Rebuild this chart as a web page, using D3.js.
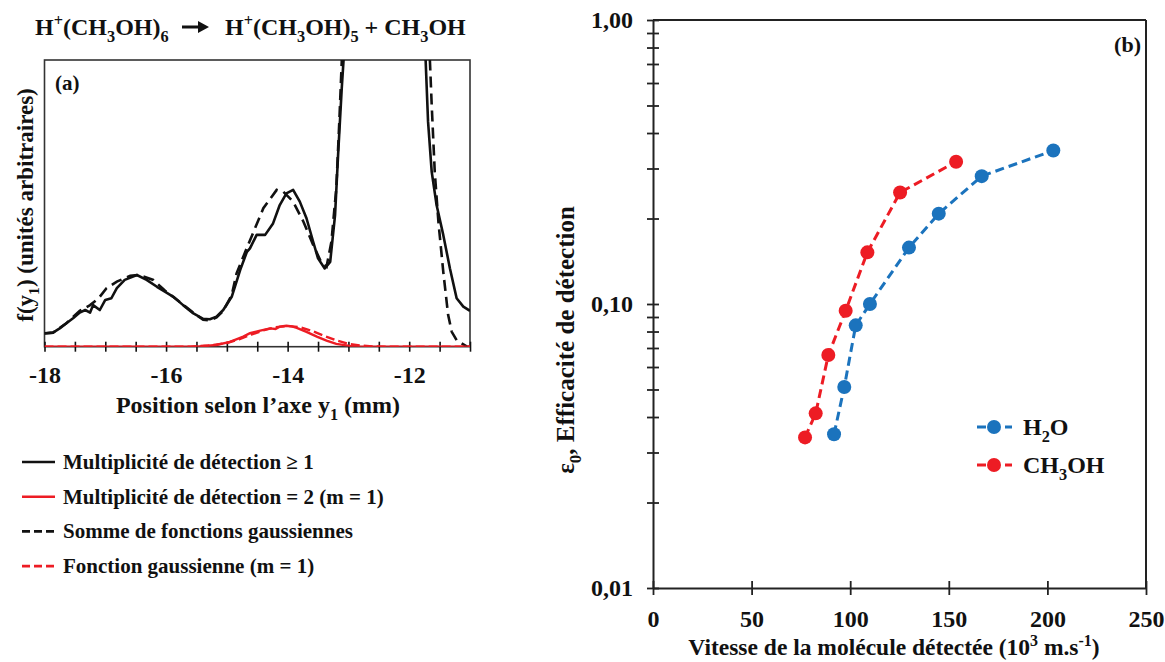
<!DOCTYPE html>
<html>
<head>
<meta charset="utf-8">
<script src="https://cdn.jsdelivr.net/npm/d3@7"></script>
<style>
  html, body { margin: 0; padding: 0; background: #fff; }
  text { font-family: "Liberation Serif", "Times New Roman", serif; font-weight: bold; fill: #111; }
</style>
</head>
<body>
<svg id="chart" width="1165" height="662"></svg>
<script>
// ---------- Panel (a) data ----------
const blackX = [-18.0,-17.86,-17.75,-17.64,-17.53,-17.42,-17.33,-17.25,-17.20,-17.09,-17.00,-16.90,-16.81,-16.68,-16.48,-16.32,-16.15,-16.02,-15.88,-15.72,-15.55,-15.39,-15.28,-15.17,-15.06,-14.92,-14.78,-14.67,-14.62,-14.51,-14.37,-14.24,-14.13,-14.02,-13.91,-13.80,-13.69,-13.58,-13.50,-13.39,-13.30,-13.22,-13.17,-13.11,-13.08,-13.05,-12.4,-11.76,-11.73,-11.69,-11.63,-11.55,-11.44,-11.33,-11.22,-11.11,-11.0];
const blackY = [0.047,0.049,0.064,0.082,0.099,0.119,0.128,0.119,0.145,0.128,0.163,0.169,0.204,0.233,0.250,0.233,0.209,0.192,0.174,0.145,0.116,0.097,0.096,0.105,0.128,0.174,0.268,0.331,0.343,0.390,0.390,0.430,0.494,0.535,0.547,0.506,0.448,0.366,0.308,0.273,0.296,0.459,0.669,0.901,1.0,1.2,3.0,1.15,1.0,0.785,0.610,0.494,0.390,0.273,0.169,0.140,0.125];

const sumX = [-18.0,-17.86,-17.64,-17.42,-17.25,-17.11,-16.98,-16.81,-16.59,-16.45,-16.21,-16.02,-15.80,-15.55,-15.39,-15.28,-15.17,-15.06,-14.92,-14.84,-14.67,-14.48,-14.40,-14.18,-14.07,-13.91,-13.74,-13.58,-13.44,-13.36,-13.28,-13.20,-13.15,-13.11,-13.08,-12.4,-11.68,-11.66,-11.63,-11.58,-11.52,-11.44,-11.36,-11.30,-11.22,-11.05,-11.0];
const sumY = [0.046,0.049,0.082,0.125,0.145,0.169,0.204,0.227,0.247,0.250,0.233,0.196,0.160,0.118,0.094,0.092,0.102,0.125,0.180,0.256,0.345,0.442,0.483,0.547,0.540,0.506,0.436,0.355,0.291,0.279,0.366,0.552,0.785,0.994,1.2,3.0,1.15,1.0,0.843,0.610,0.436,0.262,0.111,0.052,0.023,0.0,0.0];

const redX = [-18.0,-15.50,-15.17,-14.95,-14.73,-14.62,-14.45,-14.29,-14.20,-14.13,-14.02,-13.93,-13.85,-13.69,-13.52,-13.36,-13.20,-12.98,-12.80,-11.0];
const redY = [0,0,0.006,0.017,0.035,0.047,0.056,0.064,0.062,0.070,0.073,0.071,0.066,0.052,0.035,0.021,0.010,0.003,0,0];

const gaussX = [-18.0,-15.6,-15.3,-15.0,-14.8,-14.6,-14.4,-14.2,-14.0,-13.8,-13.6,-13.4,-13.2,-13.0,-12.8,-12.6,-12.4,-11.0];
const gaussY = [0,0,0.004,0.013,0.026,0.042,0.057,0.068,0.072,0.068,0.055,0.038,0.022,0.010,0.004,0.001,0,0];

const aMajorTicks = [-18,-16,-14,-12];
const aMinorTicks = [-18,-17.5,-17,-16.5,-16,-15.5,-15,-14.5,-14,-13.5,-13,-12.5,-12,-11.5,-11];

const legendA = [
  {label: "Multiplicité de détection ≥ 1", color: "#111", dash: null},
  {label: "Multiplicité de détection = 2 (m = 1)", color: "#ed1c24", dash: null},
  {label: "Somme de fonctions gaussiennes", color: "#111", dash: "8,4"},
  {label: "Fonction gaussienne (m = 1)", color: "#ed1c24", dash: "8,4"}
];

// ---------- Panel (b) data ----------
const h2oSpeed = [91.8, 97.0, 102.8, 110.0, 129.8, 144.9, 166.7, 203.0];
const h2oEff   = [0.0348, 0.0510, 0.0841, 0.100, 0.158, 0.208, 0.282, 0.347];
const meohSpeed = [77.1, 82.5, 88.9, 97.7, 108.7, 125.3, 153.7];
const meohEff   = [0.0339, 0.0412, 0.0661, 0.0947, 0.152, 0.247, 0.317];

const bXTicks = [0, 50, 100, 150, 200, 250];
const bYMajor = [0.01, 0.1, 1];
const bYMinor = [0.02,0.03,0.04,0.05,0.06,0.07,0.08,0.09,0.2,0.3,0.4,0.5,0.6,0.7,0.8,0.9];

const blue = "#1b73bd", red = "#ed1c24";

const svg = d3.select("#chart");

function rich(textSel, parts, size) {
  let shift = 0;
  parts.forEach(p => {
    const target = p.sub ? size * 0.28 : p.sup ? -size * 0.38 : 0;
    const ts = textSel.append("tspan").attr("dy", target - shift).text(p.t);
    if (p.sub || p.sup) ts.style("font-size", (size * 0.68) + "px");
    shift = target;
  });
}

// ================= Panel (a) =================
const ax = d3.scaleLinear().domain([-18, -11]).range([44.5, 470]);
const ay = d3.scaleLinear().domain([0, 1]).range([346.7, 60]);

svg.append("defs").append("clipPath").attr("id", "clipA")
  .append("rect").attr("x", ax(-18)).attr("y", ay(1)).attr("width", ax(-11) - ax(-18)).attr("height", ay(0) - ay(1));

// title
const t1 = svg.append("text").attr("x", 35).attr("y", 35).style("font-size", "24px");
rich(t1, [{t:"H"},{t:"+",sup:true},{t:"(CH"},{t:"3",sub:true},{t:"OH)"},{t:"6",sub:true}], 24);
// reaction arrow (decoration)
svg.append("path")
  .attr("d", "M182,25.5 L198,25.5 L198,21 L209,27 L198,33 L198,28.5 L182,28.5 Z")
  .attr("fill", "#111");
const t2 = svg.append("text").attr("x", 225).attr("y", 35).style("font-size", "24px");
rich(t2, [{t:"H"},{t:"+",sup:true},{t:"(CH"},{t:"3",sub:true},{t:"OH)"},{t:"5",sub:true},{t:" + CH"},{t:"3",sub:true},{t:"OH"}], 24);

// frame
svg.append("rect").attr("x", ax(-18)).attr("y", ay(1)).attr("width", ax(-11) - ax(-18)).attr("height", ay(0) - ay(1))
  .attr("fill", "none").attr("stroke", "#333").attr("stroke-width", 1.6);

// x axis ticks (crossing)
const aTickAxis = d3.axisBottom(ax).tickValues(aMinorTicks).tickSize(10).tickFormat("");
svg.append("g").attr("transform", `translate(0,${ay(0) - 5})`).call(aTickAxis)
  .call(g => g.select(".domain").remove())
  .call(g => g.selectAll("line").attr("stroke", "#111").attr("stroke-width", 1.6));
const aLabelAxis = d3.axisBottom(ax).tickValues(aMajorTicks).tickSize(0).tickPadding(19).tickFormat(d => String(d));
svg.append("g").attr("transform", `translate(0,${ay(0)})`).call(aLabelAxis)
  .call(g => g.select(".domain").remove())
  .call(g => g.selectAll("text").style("font-size", "24px").style("font-family", "Liberation Serif").style("font-weight", "bold").attr("fill", "#111"));

const lineA = d3.line().x(d => ax(d[0])).y(d => ay(d[1]));
const plotA = svg.append("g").attr("clip-path", "url(#clipA)");
plotA.append("path").datum(d3.zip(blackX, blackY)).attr("d", lineA)
  .attr("fill", "none").attr("stroke", "#111").attr("stroke-width", 2.6).attr("stroke-linejoin", "round");
plotA.append("path").datum(d3.zip(sumX, sumY)).attr("d", lineA)
  .attr("fill", "none").attr("stroke", "#111").attr("stroke-width", 2.6).attr("stroke-dasharray", "11,6");
plotA.append("path").datum(d3.zip(gaussX, gaussY)).attr("d", lineA)
  .attr("fill", "none").attr("stroke", red).attr("stroke-width", 2.4).attr("stroke-dasharray", "9,4");
plotA.append("path").datum(d3.zip(redX, redY)).attr("d", lineA)
  .attr("fill", "none").attr("stroke", red).attr("stroke-width", 2.4);

svg.append("text").attr("x", 55).attr("y", 90).style("font-size", "21px").text("(a)");

// axis titles
const axT = svg.append("text").attr("x", 258).attr("y", 413).attr("text-anchor", "middle").style("font-size", "24px");
rich(axT, [{t:"Position selon l’axe y"},{t:"1",sub:true},{t:" (mm)"}], 24);
const ayT = svg.append("text").attr("transform", "translate(33,205) rotate(-90)").attr("text-anchor", "middle").style("font-size", "23px");
rich(ayT, [{t:"f(y"},{t:"1",sub:true},{t:") (unités arbitraires)"}], 23);

// legend (a)
const legA = svg.append("g");
legendA.forEach((d, i) => {
  const cy = 462 + i * 34.7;
  legA.append("line").attr("x1", 22).attr("x2", 55).attr("y1", cy).attr("y2", cy)
    .attr("stroke", d.color).attr("stroke-width", 2.6).attr("stroke-dasharray", d.dash);
  legA.append("text").attr("x", 63).attr("y", cy + 7).style("font-size", "21px").text(d.label);
});

// ================= Panel (b) =================
const bx = d3.scaleLinear().domain([0, 250]).range([653, 1146]);
const by = d3.scaleLog().domain([0.01, 1]).range([588, 20]);

// frame lines top/right
svg.append("line").attr("x1", bx(0)).attr("x2", bx(250)).attr("y1", by(1)).attr("y2", by(1)).attr("stroke", "#222").attr("stroke-width", 2);
svg.append("line").attr("x1", bx(250)).attr("x2", bx(250)).attr("y1", by(1)).attr("y2", by(0.01)).attr("stroke", "#222").attr("stroke-width", 2);

// x axis
svg.append("g").attr("transform", `translate(0,${by(0.01)})`)
  .call(d3.axisBottom(bx).tickValues(bXTicks).tickSize(0).tickPadding(22).tickFormat(d3.format("d")))
  .call(g => g.select(".domain").attr("stroke", "#222").attr("stroke-width", 2))
  .call(g => g.selectAll("text").style("font-size", "24px").style("font-family", "Liberation Serif").style("font-weight", "bold").attr("fill", "#111"));
svg.append("g").attr("transform", `translate(0,${by(0.01) - 7})`)
  .call(d3.axisBottom(bx).tickValues(bXTicks).tickSize(14).tickFormat(""))
  .call(g => g.select(".domain").remove())
  .call(g => g.selectAll("line").attr("stroke", "#222").attr("stroke-width", 1.8));

// y axis
svg.append("g").attr("transform", `translate(${bx(0)},0)`)
  .call(d3.axisLeft(by).tickValues(bYMajor).tickSize(0).tickPadding(20).tickFormat(d => d3.format(".2f")(d).replace(".", ",")))
  .call(g => g.select(".domain").attr("stroke", "#222").attr("stroke-width", 2))
  .call(g => g.selectAll("text").style("font-size", "24px").style("font-family", "Liberation Serif").style("font-weight", "bold").attr("fill", "#111"));
svg.append("g").attr("transform", `translate(${bx(0) + 6},0)`)
  .call(d3.axisLeft(by).tickValues(bYMajor.concat(bYMinor)).tickSize(12).tickFormat(""))
  .call(g => g.select(".domain").remove())
  .call(g => g.selectAll("line").attr("stroke", "#222").attr("stroke-width", 1.8));

// series
const lineB = d3.line().x(d => bx(d[0])).y(d => by(d[1]));
const series = [
  {name: "H2O", xs: h2oSpeed, ys: h2oEff, color: blue},
  {name: "CH3OH", xs: meohSpeed, ys: meohEff, color: red}
];
series.forEach(s => {
  const pts = d3.zip(s.xs, s.ys);
  svg.append("path").datum(pts).attr("d", lineB).attr("fill", "none")
    .attr("stroke", s.color).attr("stroke-width", 3).attr("stroke-dasharray", "9,5");
  svg.append("g").selectAll("circle").data(pts).join("circle")
    .attr("cx", d => bx(d[0])).attr("cy", d => by(d[1])).attr("r", 7).attr("fill", s.color);
});

svg.append("text").attr("x", 1141).attr("y", 52).attr("text-anchor", "end").style("font-size", "22px").text("(b)");

// legend (b)
const legB = [
  {parts: [{t:"H"},{t:"2",sub:true},{t:"O"}], color: blue},
  {parts: [{t:"CH"},{t:"3",sub:true},{t:"OH"}], color: red}
];
legB.forEach((d, i) => {
  const cy = 427 + i * 38;
  svg.append("line").attr("x1", 977).attr("x2", 1012).attr("y1", cy).attr("y2", cy)
    .attr("stroke", d.color).attr("stroke-width", 3).attr("stroke-dasharray", "9,5");
  svg.append("circle").attr("cx", 994).attr("cy", cy).attr("r", 7).attr("fill", d.color);
  const tt = svg.append("text").attr("x", 1023).attr("y", cy + 8).style("font-size", "24px");
  rich(tt, d.parts, 24);
});

// axis titles (b)
const bxT = svg.append("text").attr("x", 894).attr("y", 655).attr("text-anchor", "middle").style("font-size", "23.5px");
rich(bxT, [{t:"Vitesse de la molécule détectée (10"},{t:"3",sup:true},{t:" m.s"},{t:"-1",sup:true},{t:")"}], 23.5);
const byT = svg.append("text").attr("transform", "translate(574,340) rotate(-90)").attr("text-anchor", "middle").style("font-size", "25px");
rich(byT, [{t:"ε"},{t:"0",sub:true},{t:", Efficacité de détection"}], 25);
</script>
</body>
</html>
